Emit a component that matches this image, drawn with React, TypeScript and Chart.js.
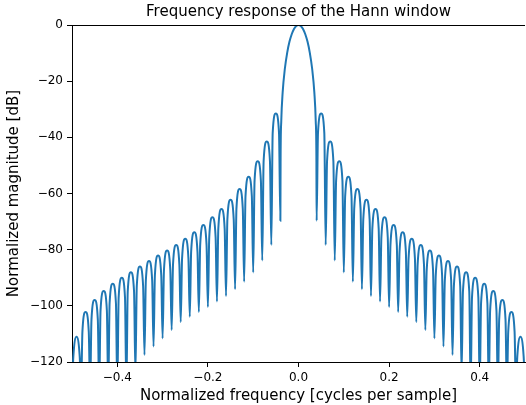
import React, { useEffect, useRef } from 'react';
import { Chart, registerables } from 'chart.js';

Chart.register(...registerables);

// ---- Data (normalized frequency, magnitude in dB) ----
const freqLeft = [
  -0.5,
  -0.497, -0.49, -0.483, -0.48,
  -0.477, -0.47, -0.463, -0.46,
  -0.457, -0.45, -0.443, -0.44,
  -0.437, -0.43, -0.423, -0.42,
  -0.417, -0.41, -0.403, -0.4,
  -0.397, -0.39, -0.383, -0.38,
  -0.377, -0.37, -0.363, -0.36,
  -0.357, -0.35, -0.343, -0.34,
  -0.337, -0.33, -0.323, -0.32,
  -0.317, -0.31, -0.303, -0.3,
  -0.297, -0.29, -0.283, -0.28,
  -0.277, -0.27, -0.263, -0.26,
  -0.257, -0.25, -0.243, -0.24,
  -0.237, -0.23, -0.223, -0.22,
  -0.217, -0.21, -0.203, -0.2,
  -0.197, -0.19, -0.183, -0.18,
  -0.177, -0.17, -0.163, -0.16,
  -0.157, -0.15, -0.143, -0.14,
  -0.137, -0.13, -0.123, -0.12,
  -0.117, -0.11, -0.103, -0.1,
  -0.097, -0.09, -0.083, -0.08,
  -0.077, -0.07, -0.063, -0.06,
  -0.057, -0.05, -0.043, -0.04,
];
const dbLeft = [
  -130,
  -118.0, -111.0, -118.0, -130,
  -109.2, -102.2, -109.2, -130,
  -104.9, -97.9, -104.9, -130,
  -101.7, -94.7, -101.7, -130,
  -99.1, -92.1, -99.1, -130,
  -97.0, -90.0, -97.0, -130,
  -95.0, -88.0, -95.0, -124,
  -93.0, -86.0, -93.0, -117.5,
  -91.0, -84.0, -91.0, -114.5,
  -89.1, -82.1, -89.1, -111.6,
  -87.3, -80.3, -87.3, -108.6,
  -85.3, -78.3, -85.3, -105.8,
  -83.1, -76.1, -83.1, -103.9,
  -80.8, -73.8, -80.8, -102.2,
  -78.2, -71.2, -78.2, -100.4,
  -75.5, -68.5, -75.5, -98.5,
  -72.5, -65.5, -72.5, -96.5,
  -69.2, -62.2, -69.2, -94.1,
  -65.4, -58.4, -65.4, -91.4,
  -61.0, -54.0, -61.0, -88.1,
  -55.5, -48.5, -55.5, -83.9,
  -48.5, -41.5, -48.5, -78.3,
  -38.5, -31.5, -38.5, -69.7,
];

const freqMain = [
  -0.0395, -0.038, -0.035, -0.03, -0.025, -0.02, -0.015, -0.01, -0.005,
  0,
  0.005, 0.01, 0.015, 0.02, 0.025, 0.03, 0.035, 0.038, 0.0395,
];
const dbMain = [
  -47.2, -34.0, -24.1, -15.4, -9.9, -6.0, -3.3, -1.4, -0.35,
  0,
  -0.35, -1.4, -3.3, -6.0, -9.9, -15.4, -24.1, -34.0, -47.2,
];

const freqRight = [
  0.04, 0.043, 0.05, 0.057,
  0.06, 0.063, 0.07, 0.077,
  0.08, 0.083, 0.09, 0.097,
  0.1, 0.103, 0.11, 0.117,
  0.12, 0.123, 0.13, 0.137,
  0.14, 0.143, 0.15, 0.157,
  0.16, 0.163, 0.17, 0.177,
  0.18, 0.183, 0.19, 0.197,
  0.2, 0.203, 0.21, 0.217,
  0.22, 0.223, 0.23, 0.237,
  0.24, 0.243, 0.25, 0.257,
  0.26, 0.263, 0.27, 0.277,
  0.28, 0.283, 0.29, 0.297,
  0.3, 0.303, 0.31, 0.317,
  0.32, 0.323, 0.33, 0.337,
  0.34, 0.343, 0.35, 0.357,
  0.36, 0.363, 0.37, 0.377,
  0.38, 0.383, 0.39, 0.397,
  0.4, 0.403, 0.41, 0.417,
  0.42, 0.423, 0.43, 0.437,
  0.44, 0.443, 0.45, 0.457,
  0.46, 0.463, 0.47, 0.477,
  0.48, 0.483, 0.49, 0.497,
  0.5,
];
const dbRight = [
  -69.7, -38.5, -31.5, -38.5,
  -78.3, -48.5, -41.5, -48.5,
  -83.9, -55.5, -48.5, -55.5,
  -88.1, -61.0, -54.0, -61.0,
  -91.4, -65.4, -58.4, -65.4,
  -94.1, -69.2, -62.2, -69.2,
  -96.5, -72.5, -65.5, -72.5,
  -98.5, -75.5, -68.5, -75.5,
  -100.4, -78.2, -71.2, -78.2,
  -102.2, -80.8, -73.8, -80.8,
  -103.9, -83.1, -76.1, -83.1,
  -105.8, -85.3, -78.3, -85.3,
  -108.6, -87.3, -80.3, -87.3,
  -111.6, -89.1, -82.1, -89.1,
  -114.5, -91.0, -84.0, -91.0,
  -117.5, -93.0, -86.0, -93.0,
  -124, -95.0, -88.0, -95.0,
  -130, -97.0, -90.0, -97.0,
  -130, -99.1, -92.1, -99.1,
  -130, -101.7, -94.7, -101.7,
  -130, -104.9, -97.9, -104.9,
  -130, -109.2, -102.2, -109.2,
  -130, -118.0, -111.0, -118.0,
  -130,
];

const xTickValues = [-0.4, -0.2, 0, 0.2, 0.4];
const xTickLabels = ['\u22120.4', '\u22120.2', '0.0', '0.2', '0.4'];
const yTickValues = [0, -20, -40, -60, -80, -100, -120];
const yTickLabels = ['0', '\u221220', '\u221240', '\u221260', '\u221280', '\u2212100', '\u2212120'];

const titleText = 'Frequency response of the Hann window';
const xTitle = 'Normalized frequency [cycles per sample]';
const yTitle = 'Normalized magnitude [dB]';

const frequency = [...freqLeft, ...freqMain, ...freqRight];
const magnitudeDb = [...dbLeft, ...dbMain, ...dbRight];

const FONT = "'DejaVu Sans', 'Liberation Sans', sans-serif";

const labelFor = (values: number[], labels: string[], v: number) => {
  const i = values.findIndex((t) => Math.abs(t - v) < 1e-9);
  return i >= 0 ? labels[i] : '';
};

const spinePlugin = {
  id: 'topSpine',
  afterDraw(chart: any) {
    const { ctx, chartArea } = chart;
    ctx.save();
    ctx.strokeStyle = '#000';
    ctx.lineWidth = 1;
    ctx.beginPath();
    ctx.moveTo(chartArea.left, Math.round(chartArea.top) + 0.5);
    ctx.lineTo(chartArea.right, Math.round(chartArea.top) + 0.5);
    ctx.stroke();
    ctx.restore();
  },
};

export default function App() {
  const canvasRef = useRef<HTMLCanvasElement | null>(null);

  useEffect(() => {
    const canvas = canvasRef.current;
    if (!canvas) return;
    const chart = new Chart(canvas, {
      type: 'line',
      data: {
        datasets: [
          {
            data: frequency.map((x, i) => ({ x, y: magnitudeDb[i] })),
            borderColor: '#1f77b4',
            borderWidth: 2,
            pointRadius: 0,
            fill: false,
            cubicInterpolationMode: 'monotone',
            clip: 0,
          } as any,
        ],
      },
      options: {
        responsive: false,
        animation: false,
        events: [],
        layout: { padding: { left: 0, right: 1, top: 0, bottom: 0 } },
        plugins: {
          legend: { display: false },
          tooltip: { enabled: false },
          title: {
            display: true,
            fullSize: false,
            text: titleText,
            color: '#000',
            font: { family: FONT, size: 15, weight: 'normal' },
            padding: { top: 3, bottom: 4 },
          },
        },
        scales: {
          x: {
            type: 'linear',
            min: -0.5,
            max: 0.5,
            afterBuildTicks: (axis: any) => {
              axis.ticks = xTickValues.map((value) => ({ value }));
            },
            afterFit: (axis: any) => {
              axis.height = 43;
            },
            ticks: {
              color: '#000',
              font: { family: FONT, size: 12 },
              padding: 4,
              maxRotation: 0,
              autoSkip: false,
              callback: (v: any) => labelFor(xTickValues, xTickLabels, Number(v)),
            },
            grid: {
              drawOnChartArea: false,
              drawTicks: true,
              tickLength: 5,
              color: '#000',
              tickWidth: 1,
            },
            border: { display: true, color: '#000', width: 1 },
            title: {
              display: true,
              text: xTitle,
              color: '#000',
              font: { family: FONT, size: 15 },
              padding: { top: 0, bottom: 0 },
            },
          },
          y: {
            type: 'linear',
            min: -120,
            max: 0,
            afterBuildTicks: (axis: any) => {
              axis.ticks = yTickValues.map((value) => ({ value }));
            },
            afterFit: (axis: any) => {
              axis.width = 72;
            },
            ticks: {
              color: '#000',
              font: { family: FONT, size: 12 },
              padding: 4,
              autoSkip: false,
              callback: (v: any) => labelFor(yTickValues, yTickLabels, Number(v)),
            },
            grid: {
              drawOnChartArea: false,
              drawTicks: true,
              tickLength: 5,
              color: '#000',
              tickWidth: 1,
            },
            border: { display: true, color: '#000', width: 1 },
            title: {
              display: true,
              text: yTitle,
              color: '#000',
              font: { family: FONT, size: 15 },
              padding: { top: 5, bottom: 0 },
            },
          },
        },
      },
      plugins: [spinePlugin],
    });
    return () => chart.destroy();
  }, []);

  return (
    <div style={{ position: 'fixed', left: 0, top: 0, width: 526, height: 405, background: '#fff' }}>
      <canvas ref={canvasRef} width={526} height={405} style={{ display: 'block' }} />
    </div>
  );
}
